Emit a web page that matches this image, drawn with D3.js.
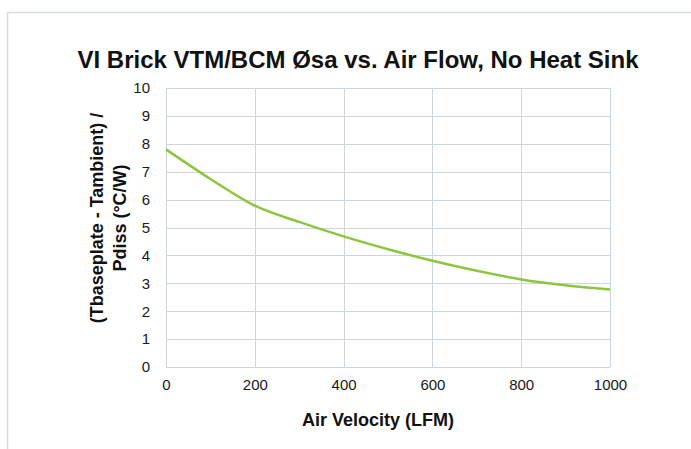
<!DOCTYPE html>
<html>
<head>
<meta charset="utf-8">
<script src="https://cdn.jsdelivr.net/npm/d3@7"></script>
<style>
  body { margin: 0; background: #fff; }
  text { font-family: "Liberation Sans", Arial, sans-serif; }
</style>
</head>
<body>
<svg id="chart" width="691" height="449"></svg>
<script>
// air velocity (LFM) and thermal resistance values
var velocity = [0, 100, 200, 300, 400, 500, 600, 700, 800, 900, 1000]
var resistance = [7.8, 6.74, 5.78, 5.2, 4.68, 4.22, 3.81, 3.45, 3.14, 2.93, 2.78]
var xTicks = [0, 200, 400, 600, 800, 1000]
var yTicks = [0, 1, 2, 3, 4, 5, 6, 7, 8, 9, 10]

var dimensions = {
    width: 691,
    height: 449,
    margin: { top: 88, bottom: 82, left: 166, right: 81 }
}

var svg = d3.select("#chart")

// outer chart border (cut off at right and bottom)
svg.append("path")
   .attr("d", "M7.5,449 L7.5,12.5 L691,12.5")
   .attr("fill", "none")
   .attr("stroke", "#d5dde0")
   .attr("stroke-width", 1.5)

var xScale = d3.scaleLinear()
               .domain([0, 1000])
               .range([dimensions.margin.left, dimensions.width - dimensions.margin.right])

var yScale = d3.scaleLinear()
               .domain([0, 10])
               .range([dimensions.height - dimensions.margin.bottom, dimensions.margin.top])

// gridlines
svg.append("g")
   .selectAll("line")
   .data(yTicks)
   .enter()
   .append("line")
   .attr("x1", xScale(0))
   .attr("x2", xScale(1000))
   .attr("y1", d => Math.round(yScale(d)) + 0.5)
   .attr("y2", d => Math.round(yScale(d)) + 0.5)
   .attr("stroke", "#ccd6dc")
   .attr("stroke-width", 1)

svg.append("g")
   .selectAll("line")
   .data(xTicks)
   .enter()
   .append("line")
   .attr("x1", d => Math.round(xScale(d)) + 0.5)
   .attr("x2", d => Math.round(xScale(d)) + 0.5)
   .attr("y1", yScale(0))
   .attr("y2", yScale(10))
   .attr("stroke", "#ccd6dc")
   .attr("stroke-width", 1)

// axes (labels only)
var xAxis = svg.append("g")
               .attr("transform", `translate(0,${yScale(0)})`)
               .call(d3.axisBottom(xScale).tickValues(xTicks).tickSize(0).tickPadding(12).tickFormat(d3.format("d")))
xAxis.select(".domain").remove()
xAxis.selectAll("text").style("font-size", "15px").attr("fill", "#1a1a1a")
     .style("font-family", "Liberation Sans, Arial, sans-serif")

var yAxis = svg.append("g")
               .attr("transform", `translate(${xScale(0)},0)`)
               .call(d3.axisLeft(yScale).tickValues(yTicks).tickSize(0).tickPadding(16).tickFormat(d3.format("d")))
yAxis.select(".domain").remove()
yAxis.selectAll("text").style("font-size", "15px").attr("fill", "#1a1a1a")
     .style("font-family", "Liberation Sans, Arial, sans-serif")

// the curve
var line = d3.line()
             .x((d, i) => xScale(velocity[i]))
             .y(d => yScale(d))
             .curve(d3.curveMonotoneX)

svg.append("path")
   .datum(resistance)
   .attr("d", line)
   .attr("fill", "none")
   .attr("stroke", "#8cc63f")
   .attr("stroke-width", 2.5)

// title
svg.append("text")
   .attr("x", 358)
   .attr("y", 68)
   .attr("text-anchor", "middle")
   .style("font-size", "24px")
   .style("font-weight", "bold")
   .attr("fill", "#111")
   .text("VI Brick VTM/BCM Øsa vs. Air Flow, No Heat Sink")

// axis titles
svg.append("text")
   .attr("x", 378)
   .attr("y", 426)
   .attr("text-anchor", "middle")
   .style("font-size", "18px")
   .style("font-weight", "bold")
   .attr("fill", "#111")
   .text("Air Velocity (LFM)")

var yTitle = svg.append("text")
   .attr("transform", "translate(0,218) rotate(-90)")
   .attr("text-anchor", "middle")
   .style("font-size", "18px")
   .style("font-weight", "bold")
   .attr("fill", "#111")

yTitle.append("tspan").attr("x", 0).attr("y", 103).text("(Tbaseplate - Tambient) /")
yTitle.append("tspan").attr("x", 0).attr("y", 126).text("Pdiss (°C/W)")
</script>
</body>
</html>
